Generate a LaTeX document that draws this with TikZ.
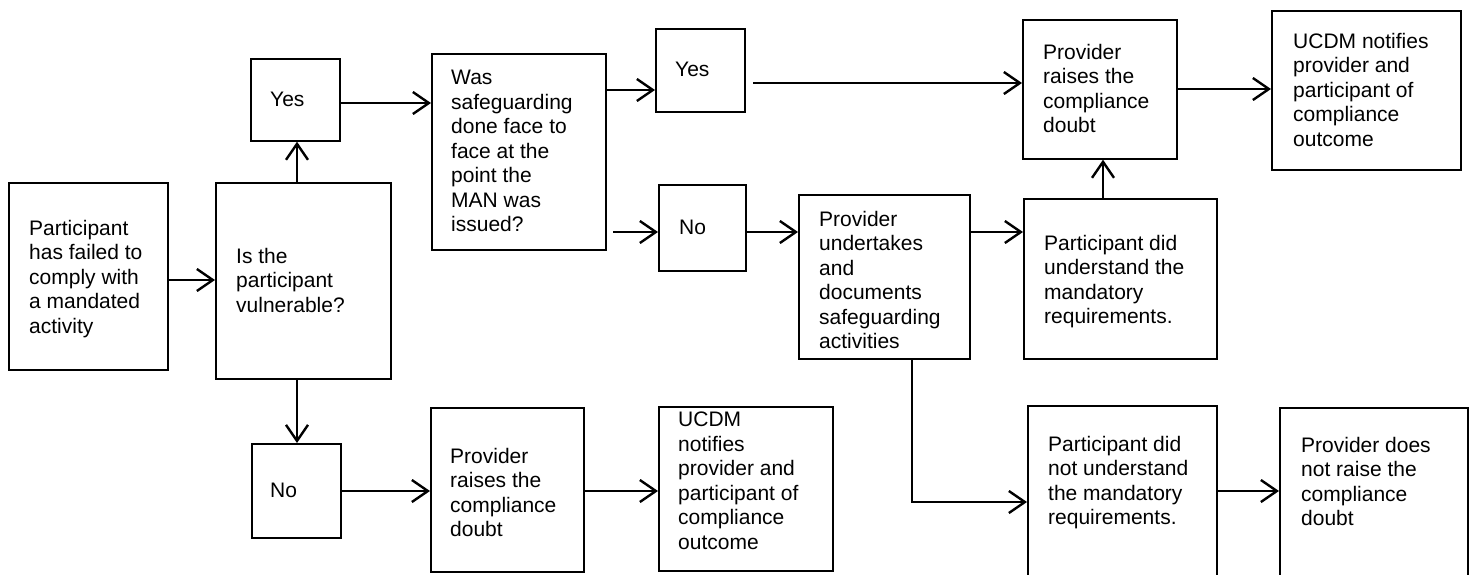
\documentclass[tikz,border=0pt]{standalone}
\usepackage{fontspec}
\setmainfont{Liberation Sans}
\usetikzlibrary{arrows.meta}
\begin{document}
\begin{tikzpicture}[x=1pt,y=-1pt,
  box/.style={draw, line width=1.7pt, anchor=north west, inner sep=0pt},
  txt/.style={anchor=north west, inner sep=0pt, align=left,
    font=\fontsize{21}{24.5}\selectfont},
  conn/.style={line width=2.4pt, -{Straight Barb[length=16pt,width=22pt]}}]
\useasboundingbox (0,0) rectangle (1471,574);
\clip (0,0) rectangle (1471,574);

% boxes
\node[box, minimum width=159pt, minimum height=187pt] (a)     at (8,182)   {};
\node[box, minimum width=175pt, minimum height=196pt] (b)     at (215,182) {};
\node[box, minimum width=89pt,  minimum height=82pt]  (yes1)  at (250,58)  {};
\node[box, minimum width=89pt,  minimum height=94pt]  (no1)   at (251,443) {};
\node[box, minimum width=174pt, minimum height=196pt] (was)   at (431,53)  {};
\node[box, minimum width=89pt,  minimum height=83pt]  (yes2)  at (655,28)  {};
\node[box, minimum width=87pt,  minimum height=86pt]  (no2)   at (658,184) {};
\node[box, minimum width=154pt, minimum height=139pt] (pr)    at (1022,19) {};
\node[box, minimum width=189pt, minimum height=159pt] (ucdm)  at (1271,10) {};
\node[box, minimum width=171pt, minimum height=164pt] (pu)    at (798,194) {};
\node[box, minimum width=193pt, minimum height=160pt] (pdu)   at (1023,198) {};
\node[box, minimum width=153pt, minimum height=164pt] (pr2)   at (430,407) {};
\node[box, minimum width=174pt, minimum height=164pt] (ucdm2) at (658,406) {};
\node[box, minimum width=189pt, minimum height=200pt] (pdnu)  at (1027,405) {};
\node[box, minimum width=188pt, minimum height=200pt] (pdnr)  at (1279,407) {};

% labels
\node[txt] (a-t)     at (29,220)   {Participant\\has failed to\\comply with\\a mandated\\activity};
\node[txt] (b-t)     at (236,248)  {Is the\\participant\\vulnerable?};
\node[txt] (yes1-t)  at (270,92)   {Yes};
\node[txt] (no1-t)   at (270,483)  {No};
\node[txt] (was-t)   at (451,70)   {Was\\safeguarding\\done face to\\face at the\\point the\\MAN was\\issued?};
\node[txt] (yes2-t)  at (675,62)   {Yes};
\node[txt] (no2-t)   at (679,220)  {No};
\node[txt] (pr-t)    at (1043,44)  {Provider\\raises the\\compliance\\doubt};
\node[txt] (ucdm-t)  at (1293,33)  {UCDM notifies\\provider and\\participant of\\compliance\\outcome};
\node[txt] (pu-t)    at (819,211)  {Provider\\undertakes\\and\\documents\\safeguarding\\activities};
\node[txt] (pdu-t)   at (1044,235) {Participant did\\understand the\\mandatory\\requirements.};
\node[txt] (pr2-t)   at (450,448)  {Provider\\raises the\\compliance\\doubt};
\node[txt] (ucdm2-t) at (678,412)  {UCDM\\notifies\\provider and\\participant of\\compliance\\outcome};
\node[txt] (pdnu-t)  at (1048,436) {Participant did\\not understand\\the mandatory\\requirements.};
\node[txt] (pdnr-t)  at (1301,437) {Provider does\\not raise the\\compliance\\doubt};

% connectors
\coordinate (nostart)  at (613,232);
\coordinate (yesstart) at (753,83);
\draw[conn] (a.east |- 0,280) -- (b.west |- 0,280);
\draw[conn] (b.north -| 297,0) -- (yes1.south -| 297,0);
\draw[conn] (b.south -| 297,0) -- (no1.north -| 297,0);
\draw[conn] (yes1.east |- 0,103) -- (was.west |- 0,103);
\draw[conn] (was.east |- 0,90) -- (yes2.west |- 0,90);
\draw[conn] (nostart) -- (no2.west |- nostart);
\draw[conn] (yesstart) -- (pr.west |- yesstart);
\draw[conn] (no2.east |- 0,232) -- (pu.west |- 0,232);
\draw[conn] (pu.east |- 0,232) -- (pdu.west |- 0,232);
\draw[conn] (pdu.north -| 1103,0) -- (pr.south -| 1103,0);
\draw[conn] (pr.east |- 0,89) -- (ucdm.west |- 0,89);
\draw[conn] (pu.south -| 912,0) |- (pdnu.west |- 0,502);
\draw[conn] (pdnu.east |- 0,491) -- (pdnr.west |- 0,491);
\draw[conn] (no1.east |- 0,491) -- (pr2.west |- 0,491);
\draw[conn] (pr2.east |- 0,491) -- (ucdm2.west |- 0,491);
\end{tikzpicture}
\end{document}
